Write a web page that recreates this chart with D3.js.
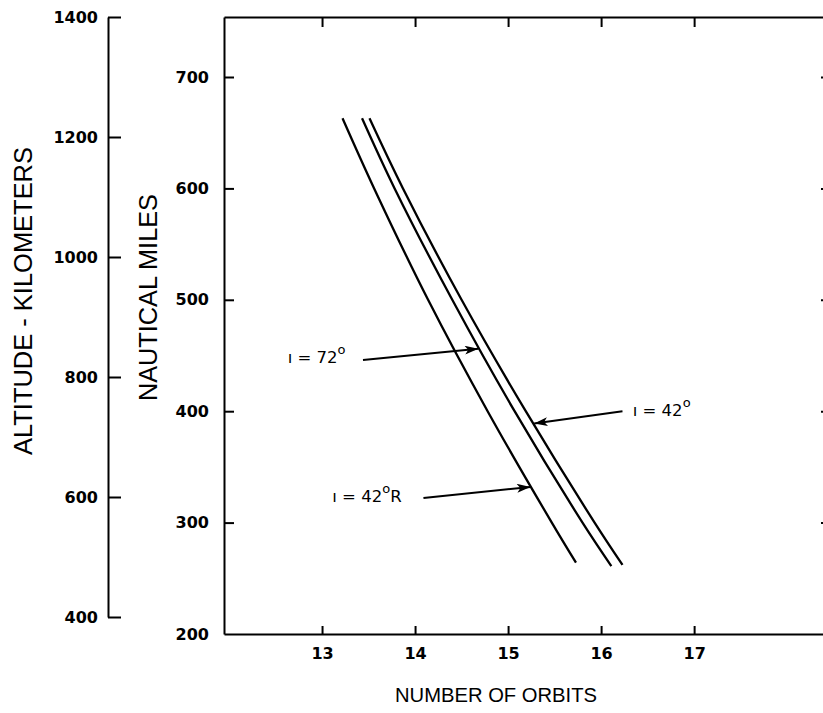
<!DOCTYPE html>
<html>
<head>
<meta charset="utf-8">
<script src="https://cdn.jsdelivr.net/npm/d3@7"></script>
<style>
  html, body { margin: 0; padding: 0; background: #fff; }
  svg { display: block; }
</style>
</head>
<body>
<svg id="chart" width="823" height="713"></svg>
<script>
// ---------------- data ----------------
const orbitTicks = [13, 14, 15, 16, 17];
const nmTicks = [200, 300, 400, 500, 600, 700];
const kmTicks = [400, 600, 800, 1000, 1200, 1400];
const rightNmTicks = [300, 400, 500, 600, 700];

const seriesNames = ["ı = 42°R", "ı = 72°", "ı = 42°"];
// altitude (nautical miles) vs number of orbits
const nm42R = [663, 600, 500, 400, 300, 264];
const orb42R = [13.22, 13.56, 14.14, 14.78, 15.47, 15.73];
const nm72 = [663, 600, 500, 400, 300, 261];
const orb72 = [13.43, 13.78, 14.40, 15.07, 15.80, 16.11];
const nm42 = [663, 600, 500, 400, 300, 262];
const orb42 = [13.51, 13.87, 14.50, 15.19, 15.93, 16.23];

// annotations: label anchor, arrow tail, arrow tip (orbits, nm)
const annotLabels = ["ı = 72", "ı = 42", "ı = 42"];
const annotSuffix = ["", "R", ""];
const annotLabelPos = [[12.63, 443], [13.11, 318.8], [16.34, 396]];
const annotTail = [[13.44, 446], [14.09, 322], [16.23, 400]];
const annotTip = [[14.68, 456], [15.24, 332], [15.28, 389]];

// ---------------- drawing ----------------
const svg = d3.select("#chart");
const xMin = 11.946, xMax = 18.45;
const x = d3.scaleLinear().domain([xMin, xMax]).range([224, 829]);
const yNm = d3.scaleLinear().domain([200, 700]).range([634, 77]);
const yKm = d3.scaleLinear().domain([400, 1400]).range([617, 17]);
const nmTop = yNm.invert(17);
yNm.domain([200, nmTop]).range([634, 17]);

const tickFont = "DejaVu Sans, Verdana, sans-serif";
const titleFont = "Liberation Sans, Arial, Helvetica, sans-serif";

function styleAxis(g) {
  g.selectAll("path.domain").attr("stroke", "#000").attr("stroke-width", 2);
  g.selectAll(".tick line").attr("stroke", "#000").attr("stroke-width", 2);
  g.selectAll(".tick text").attr("fill", "#000")
    .attr("font-family", tickFont).attr("font-size", 16).attr("font-weight", "bold");
}

// bottom axis
const gBottom = svg.append("g").attr("transform", `translate(0,${yNm(200)})`)
  .call(d3.axisBottom(x).tickValues(orbitTicks).tickFormat(d3.format("d"))
    .tickSizeInner(-8).tickSizeOuter(0).tickPadding(14));
styleAxis(gBottom);

// top axis
const gTop = svg.append("g").attr("transform", `translate(0,${yNm(nmTop)})`)
  .call(d3.axisTop(x).tickValues(orbitTicks).tickFormat("")
    .tickSizeInner(-10).tickSizeOuter(0));
styleAxis(gTop);

// nautical-miles axis (frame left)
const gNm = svg.append("g").attr("transform", `translate(${x(xMin)},0)`)
  .call(d3.axisLeft(yNm).tickValues(nmTicks).tickFormat(d3.format("d"))
    .tickSizeInner(-10).tickSizeOuter(0).tickPadding(15));
styleAxis(gNm);
gNm.selectAll(".tick").filter(d => d === 200).select("line").remove();

// right frame ticks
const gRight = svg.append("g").attr("transform", `translate(${x(xMax)},0)`)
  .call(d3.axisLeft(yNm).tickValues(rightNmTicks).tickFormat("")
    .tickSizeInner(8).tickSizeOuter(0));
styleAxis(gRight);

// kilometers axis
const gKm = svg.append("g").attr("transform", "translate(108,0)")
  .call(d3.axisLeft(yKm).tickValues(kmTicks).tickFormat(d3.format("d"))
    .tickSizeInner(-13).tickSizeOuter(0).tickPadding(10));
styleAxis(gKm);

// axis titles
svg.append("text")
  .attr("transform", `translate(31.5,${yKm(1000) + 44}) rotate(-90)`)
  .attr("text-anchor", "middle").attr("font-family", titleFont).attr("font-size", 25)
  .attr("textLength", 308).attr("lengthAdjust", "spacingAndGlyphs")
  .text("ALTITUDE - KILOMETERS");
svg.append("text")
  .attr("transform", `translate(157,${yNm(502)}) rotate(-90)`)
  .attr("text-anchor", "middle").attr("font-family", titleFont).attr("font-size", 25)
  .attr("textLength", 207).attr("lengthAdjust", "spacingAndGlyphs")
  .text("NAUTICAL MILES");
svg.append("text")
  .attr("x", x(14.87)).attr("y", 702)
  .attr("text-anchor", "middle").attr("font-family", titleFont).attr("font-size", 21)
  .attr("textLength", 202).attr("lengthAdjust", "spacingAndGlyphs")
  .text("NUMBER  OF ORBITS");

// curves
const series = [
  { nm: nm42R, orb: orb42R },
  { nm: nm72, orb: orb72 },
  { nm: nm42, orb: orb42 }
];
const line = d3.line().x(d => x(d[0])).y(d => yNm(d[1])).curve(d3.curveCatmullRom);
series.forEach(s => {
  const pts = s.orb.map((o, i) => [o, s.nm[i]]);
  svg.append("path").attr("d", line(pts))
    .attr("fill", "none").attr("stroke", "#000").attr("stroke-width", 2.3);
});

// arrow marker
svg.append("defs").append("marker")
  .attr("id", "arr").attr("markerUnits", "userSpaceOnUse")
  .attr("viewBox", "0 0 12 8").attr("refX", 12).attr("refY", 4)
  .attr("markerWidth", 14).attr("markerHeight", 9).attr("orient", "auto")
  .append("path").attr("d", "M0,0 L12,4 L0,8 L3,4 Z").attr("fill", "#000");

annotLabels.forEach((lab, i) => {
  svg.append("line")
    .attr("x1", x(annotTail[i][0])).attr("y1", yNm(annotTail[i][1]))
    .attr("x2", x(annotTip[i][0])).attr("y2", yNm(annotTip[i][1]))
    .attr("stroke", "#000").attr("stroke-width", 2).attr("marker-end", "url(#arr)");
  const t = svg.append("text")
    .attr("x", x(annotLabelPos[i][0])).attr("y", yNm(annotLabelPos[i][1]))
    .attr("font-family", tickFont).attr("font-size", 16.5).attr("fill", "#000");
  t.append("tspan").text(lab);
  t.append("tspan").attr("dy", -9).attr("font-size", 13).text("o");
  if (annotSuffix[i]) t.append("tspan").attr("dy", 9).attr("font-size", 16.5).text(annotSuffix[i]);
});
</script>
</body>
</html>
